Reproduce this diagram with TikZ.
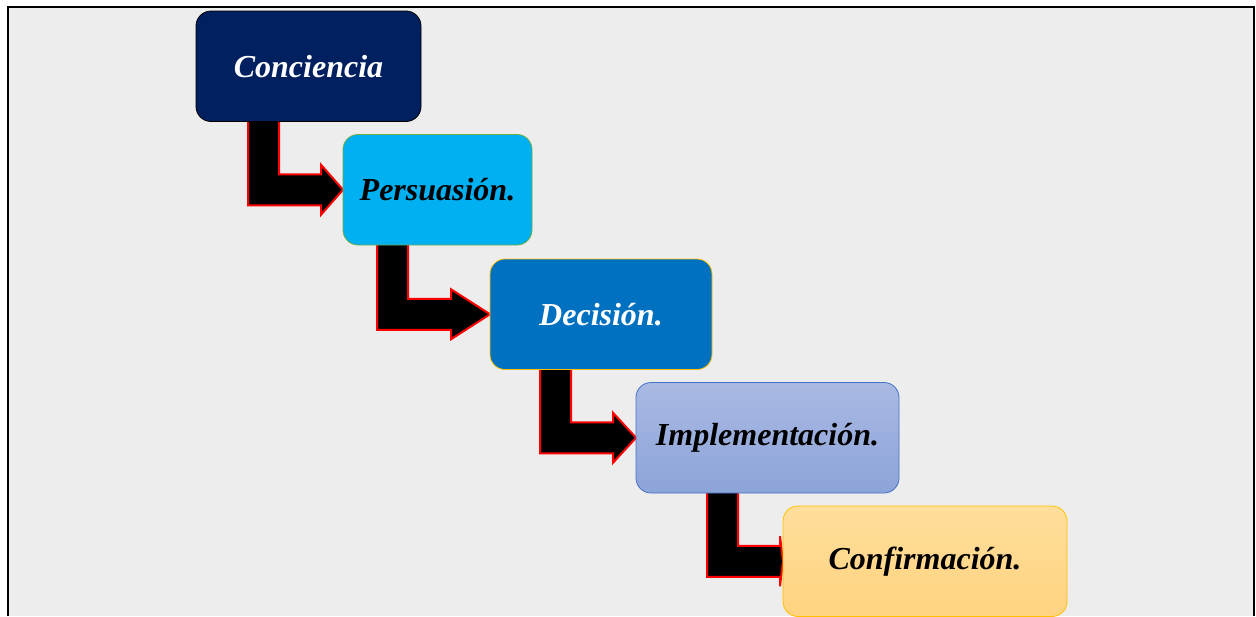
\documentclass[tikz,border=0pt]{standalone}
\usepackage{fontspec}
\setmainfont{Liberation Serif}
\usetikzlibrary{backgrounds, positioning, calc}

\definecolor{paper}{HTML}{EDEDED}
\definecolor{navy}{HTML}{002060}
\definecolor{sky}{HTML}{00B0F0}
\definecolor{leaf}{HTML}{70AD47}
\definecolor{ocean}{HTML}{0070C0}
\definecolor{amber}{HTML}{FFC000}
\definecolor{lilactop}{HTML}{A9B9E3}
\definecolor{lilacbot}{HTML}{8DA4D9}
\definecolor{steel}{HTML}{4472C4}
\definecolor{sandtop}{HTML}{FFDE9B}
\definecolor{sandbot}{HTML}{FFD380}

\newcommand{\stair}[4]{%
    \path (#1.south) ++(0,-3) coordinate (top);
    \path (#2.west) ++(0,15.5) coordinate (lo) ++(0,9.5) coordinate (hlo);
    \path (#2.west) ++(0,-15.5) coordinate (hi) ++(0,-9.5) coordinate (hhi);
    \draw[stairarrow] (#3,0 |- top) -- (#3,0 |- lo) -- (#4,0 |- lo) -- (#4,0 |- hlo)
        -- (#2.west) -- (#4,0 |- hhi) -- (#4,0 |- hi) -- (#3+31,0 |- hi) -- (#3+31,0 |- top) -- cycle;
}

\begin{document}
\begin{tikzpicture}[x=1pt, y=-1pt]
    \tikzstyle{box} = [rounded corners=15pt, minimum height=110.5pt, outer sep=0pt, line width=0.8pt, font=\fontsize{32}{38}\selectfont\bfseries\itshape];
    \tikzstyle{stairarrow} = [draw=red, fill=black, line width=2pt];

    \useasboundingbox (0,0) rectangle (1256,616);

    \node[box, fill=navy, draw=black, text=white, minimum width=225pt, anchor=north west] (C) at (196,11) {Conciencia};
    \node[box, fill=sky, draw=leaf, minimum width=189pt, below right = 13pt and -78pt of C] (P) {Persuasión.};
    \node[box, fill=ocean, draw=amber, text=white, minimum width=222pt, below right = 14pt and -42pt of P] (D) {Decisión.};
    \node[box, top color=lilactop, bottom color=lilacbot, draw=steel, minimum width=263pt, below right = 13pt and -76pt of D] (I) {Implementación.};
    \node[box, top color=sandtop, bottom color=sandbot, draw=amber, minimum width=284pt, below right = 13pt and -116pt of I] (F) {Confirmación.};

    \begin{scope}[on background layer]
        \fill[paper] (7,6) rectangle (1254,616);
        \draw[line width=2pt] (7.5,616) -- (7.5,6.5) -- (1254,6.5) -- (1254,616);
        \stair{C}{P}{248}{321}
        \stair{P}{D}{377}{451}
        \stair{D}{I}{540}{613}
        \stair{I}{F}{707}{780}
    \end{scope}
\end{tikzpicture}
\end{document}
